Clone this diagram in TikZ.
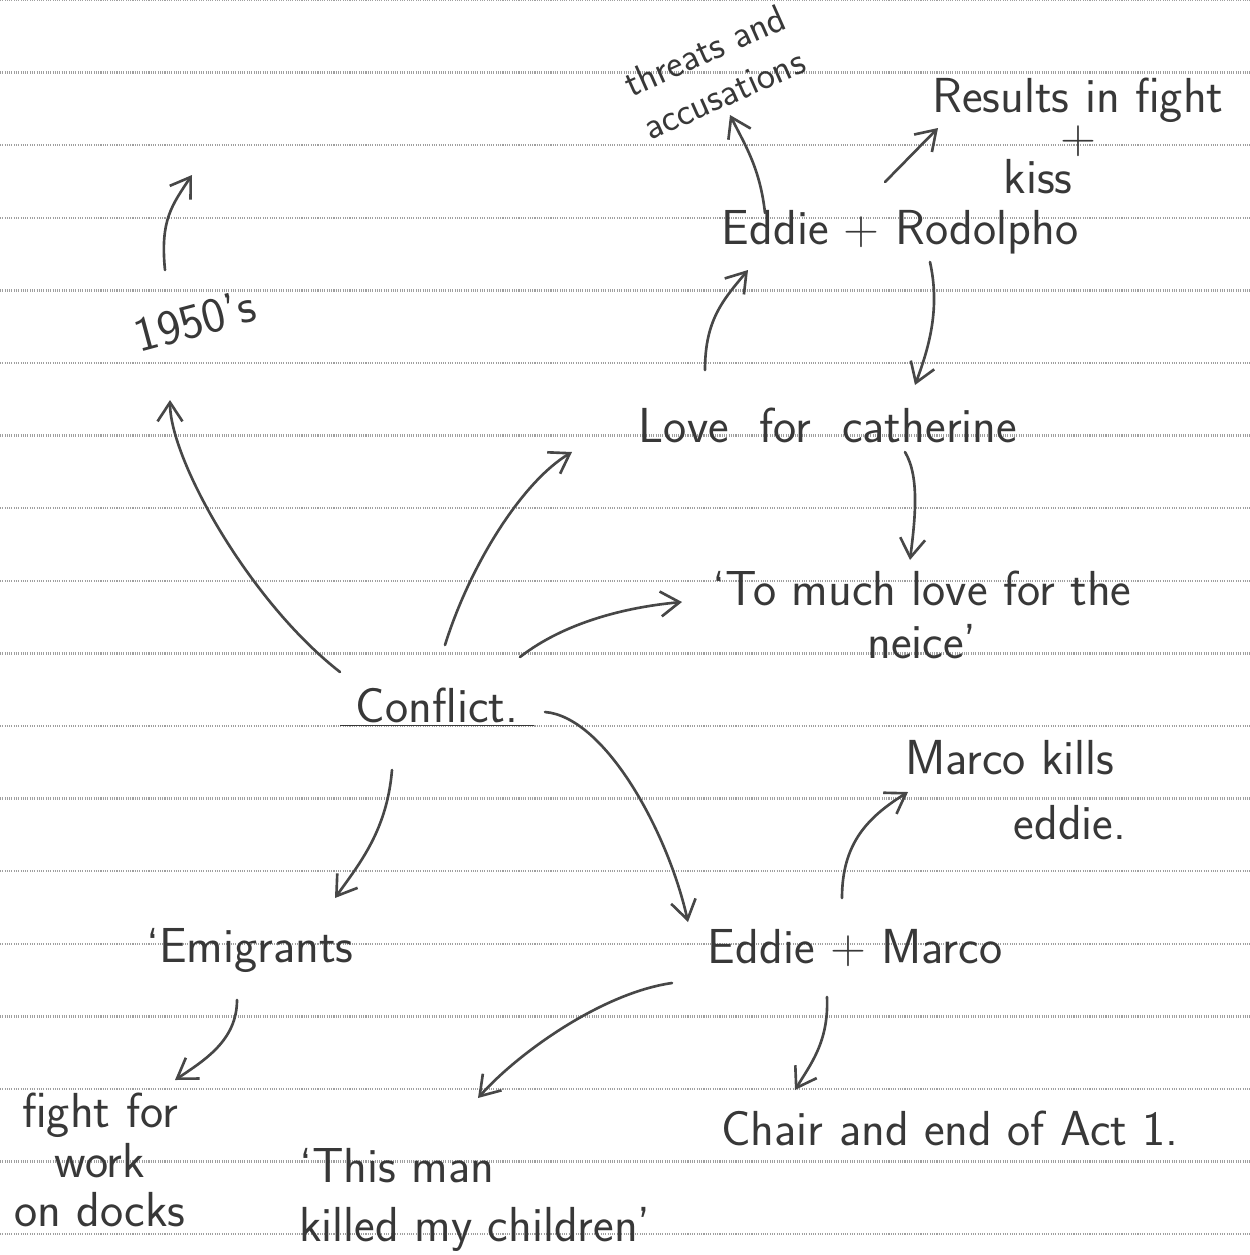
\documentclass[tikz,border=0pt]{standalone}
\usepackage{tikz}
\usetikzlibrary{arrows.meta}

\begin{document}
\begin{tikzpicture}[x=0.02cm, y=-0.02cm,
			word/.style={text=black!78, font=\sffamily\fontsize{28}{30}\selectfont, inner sep=2pt, align=center},
			small/.style={word, font=\sffamily\fontsize{22}{25}\selectfont},
			arrow/.style={-{Straight Barb[length=0.38cm,width=0.5cm]}, line width=1.5pt, black!72, line cap=round},
			paper/.style={gray!75, line width=1.3pt, dash pattern=on 0.6pt off 0.7pt}
		]

		\useasboundingbox (0,0) rectangle (1250,1255);

		% Ruled paper
		\foreach \k in {0,...,17}
			\draw[paper] (0,72.6*\k) -- (1250,72.6*\k);

		% Centre
		\node[word] (conflict) at (437,707) {\underline{\ Conflict.\ }};

		% Upper left
		\node[word, rotate=15] (fifties) at (195,320) {1950's};
		\coordinate (blank) at (192,175);

		% Upper right
		\node[word] (love) at (828,425) {Love\ \ for\ \ catherine};
		\node[word] (eddierod) at (900,232) {Eddie + Rodolpho};
		\node[small, rotate=24] (threats) at (714,72) {threats and\\[2pt]accusations};
		\node[word] (results) at (1078,136) {Results in fight\\[-7pt]+\\[-7pt]kiss\hspace*{1.6cm}};
		\node[word] (tomuch) at (922,615) {`To much love for the\\neice'};

		% Lower right
		\node[word] (eddiemarco) at (855,948) {Eddie + Marco};
		\node[word] (kills) at (1010,790) {Marco kills\\[7pt]\hspace*{2.4cm}eddie.};
		\node[word] (chair) at (950,1128) {Chair and end of Act 1.};
		\node[word, align=left] (children) at (475,1200) {`This man\\[4pt]killed my children'};

		% Lower left
		\node[word] (emigrants) at (250,950) {`Emigrants};
		\node[word] (docks) at (100,1160) {fight for\\[-2pt]work\\[-2pt]on docks};

		% Arrows out of the centre
		\draw[arrow] ([shift={(-97,-35)}]conflict.center) .. controls +(-90,-70) and +(0,60) .. ([shift={(-25,80)}]fifties.center);
		\draw[arrow] ([shift={(8,-62)}]conflict.center) .. controls +(25,-80) and +(-50,30) .. ([shift={(-256,27)}]love.center);
		\draw[arrow] ([shift={(83,-50)}]conflict.center) .. controls +(45,-35) and +(-55,5) .. ([shift={(-240,-13)}]tomuch.center);
		\draw[arrow] ([shift={(108,5)}]conflict.center) .. controls +(60,5) and +(-20,-90) .. ([shift={(-167,-26)}]eddiemarco.center);
		\draw[arrow] ([shift={(-45,63)}]conflict.center) .. controls +(-5,60) and +(25,-35) .. ([shift={(85,-52)}]emigrants.center);

		% Arrows further out
		\draw[arrow] ([shift={(-30,-50)}]fifties.center) .. controls +(-5,-50) and +(-20,30) .. (blank);
		\draw[arrow] ([shift={(-123,-55)}]love.center) .. controls +(0,-50) and +(-25,30) .. ([shift={(-152,38)}]eddierod.center);
		\draw[arrow] ([shift={(-135,-19)}]eddierod.center) .. controls +(-5,-45) and +(15,30) .. ([shift={(16,43)}]threats.center);
		\draw[arrow] ([shift={(-15,-50)}]eddierod.center) -- ([shift={(-140,-8)}]results.center);
		\draw[arrow] ([shift={(30,30)}]eddierod.center) .. controls +(10,45) and +(15,-40) .. ([shift={(87,-40)}]love.center);
		\draw[arrow] ([shift={(77,27)}]love.center) .. controls +(15,25) and +(5,-40) .. ([shift={(-12,-55)}]tomuch.center);
		\draw[arrow] ([shift={(-13,-50)}]eddiemarco.center) .. controls +(0,-55) and +(-40,25) .. ([shift={(-102,2)}]kills.center);
		\draw[arrow] ([shift={(-183,35)}]eddiemarco.center) .. controls +(-70,10) and +(40,-45) .. ([shift={(3,-102)}]children.center);
		\draw[arrow] ([shift={(-28,49)}]eddiemarco.center) .. controls +(2,45) and +(15,-25) .. ([shift={(-155,-38)}]chair.center);
		\draw[arrow] ([shift={(-13,50)}]emigrants.center) .. controls +(0,40) and +(30,-20) .. ([shift={(75,-80)}]docks.center);

	\end{tikzpicture}
\end{document}
